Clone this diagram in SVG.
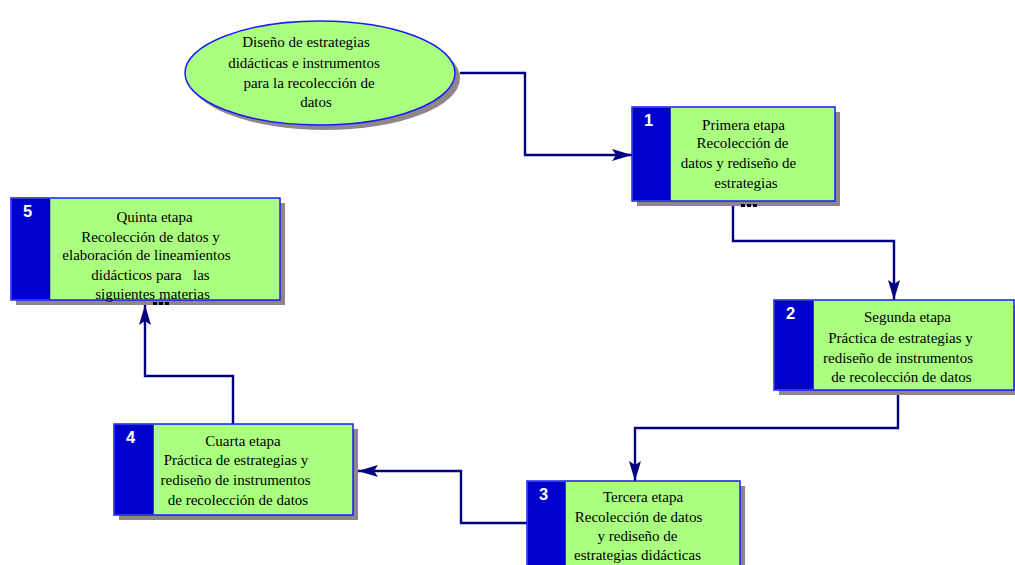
<svg xmlns="http://www.w3.org/2000/svg" width="1015" height="565" viewBox="0 0 1015 565">
<style>
.sh{fill:#8f8787}
.bx{fill:#aaff80;stroke:#1a1aff;stroke-width:1.5}
.tab{fill:#0000cc}
.t{font-family:"Liberation Serif","Times New Roman",serif;font-size:15px;fill:#000;text-anchor:middle}
.n{font-family:"Liberation Sans",Arial,sans-serif;font-size:16.5px;font-weight:bold;fill:#fff}
.c{fill:none;stroke:#000080;stroke-width:2.4}
.dot{fill:#000}
</style>
<defs>
<marker id="ah" markerWidth="20" markerHeight="12" refX="20" refY="6" orient="auto" markerUnits="userSpaceOnUse">
<path d="M0,0 L20,6 L0,12 L4,6 Z" fill="#000080"/>
</marker>
</defs>
<rect width="1015" height="565" fill="#fff"/>

<g id="connectors">
<polyline class="c" points="460,73 525,73 525,155 632,155" marker-end="url(#ah)"/>
<polyline class="c" points="733,206 733,241 894,241 894,300" marker-end="url(#ah)"/>
<polyline class="c" points="898,394 898,428 635,428 635,481" marker-end="url(#ah)"/>
<polyline class="c" points="527,523 461,523 461,471 358,471" marker-end="url(#ah)"/>
<polyline class="c" points="233,424 233,376 145,376 145,305" marker-end="url(#ah)"/>
</g>

<g id="start">
<ellipse class="sh" cx="325" cy="78" rx="135" ry="52"/>
<ellipse cx="320" cy="73" rx="135" ry="52" fill="#aaff80" stroke="#1a1aff" stroke-width="1.5"/>
<text class="t" x="306" y="47">Diseño de estrategias</text>
<text class="t" x="304" y="68">didácticas e instrumentos</text>
<text class="t" x="309" y="88">para la recolección de</text>
<text class="t" x="316" y="107">datos</text>
</g>

<g id="stage1">
<rect class="sh" x="637" y="112" width="203" height="94"/>
<rect class="bx" x="632" y="107" width="203" height="94"/>
<rect class="tab" x="632.75" y="107.75" width="38" height="92.5"/>
<text class="n" x="644" y="126">1</text>
<text class="t" x="743.5" y="130">Primera etapa</text>
<text class="t" x="742.5" y="148">Recolección de</text>
<text class="t" x="738.5" y="168">datos y rediseño de</text>
<text class="t" x="746" y="188">estrategias</text>
<rect class="dot" x="741" y="204" width="4" height="3"/>
<rect class="dot" x="747" y="204" width="4" height="3"/>
<rect class="dot" x="753" y="204" width="4" height="3"/>
</g>

<g id="stage2">
<rect class="sh" x="779" y="305" width="240" height="90"/>
<rect class="bx" x="774" y="300" width="240" height="90"/>
<rect class="tab" x="774.75" y="300.75" width="39" height="88.5"/>
<text class="n" x="786" y="319">2</text>
<text class="t" x="907.5" y="322">Segunda etapa</text>
<text class="t" x="900.5" y="343">Práctica de estrategias y</text>
<text class="t" x="898" y="363">rediseño de instrumentos</text>
<text class="t" x="901.5" y="382">de recolección de datos</text>
</g>

<g id="stage3">
<rect class="sh" x="532" y="486" width="213" height="90"/>
<rect class="bx" x="527" y="481" width="213" height="90"/>
<rect class="tab" x="527.75" y="481.75" width="38" height="88"/>
<text class="n" x="539" y="500">3</text>
<text class="t" x="643" y="502">Tercera etapa</text>
<text class="t" x="638.5" y="522">Recolección de datos</text>
<text class="t" x="637.5" y="541">y rediseño de</text>
<text class="t" x="637.5" y="560">estrategias didácticas</text>
</g>

<g id="stage4">
<rect class="sh" x="119" y="429" width="239" height="91"/>
<rect class="bx" x="114" y="424" width="239" height="91"/>
<rect class="tab" x="114.75" y="424.75" width="39" height="89.5"/>
<text class="n" x="126" y="443">4</text>
<text class="t" x="243" y="446">Cuarta etapa</text>
<text class="t" x="236" y="465">Práctica de estrategias y</text>
<text class="t" x="235.5" y="485">rediseño de instrumentos</text>
<text class="t" x="238" y="505">de recolección de datos</text>
</g>

<g id="stage5">
<rect class="sh" x="16" y="203" width="269" height="102"/>
<rect class="bx" x="11" y="198" width="269" height="102"/>
<rect class="tab" x="11.75" y="198.75" width="38.5" height="100.5"/>
<text class="n" x="23" y="217">5</text>
<text class="t" x="154.5" y="222">Quinta etapa</text>
<text class="t" x="150.5" y="242">Recolección de datos y</text>
<text class="t" x="146.5" y="260">elaboración de lineamientos</text>
<text class="t" x="150.5" y="280" xml:space="preserve">didácticos para   las</text>
<text class="t" x="152.5" y="299">siguientes materias</text>
<rect class="dot" x="153" y="302" width="4" height="3"/>
<rect class="dot" x="159" y="302" width="4" height="3"/>
<rect class="dot" x="165" y="302" width="4" height="3"/>
</g>
</svg>
